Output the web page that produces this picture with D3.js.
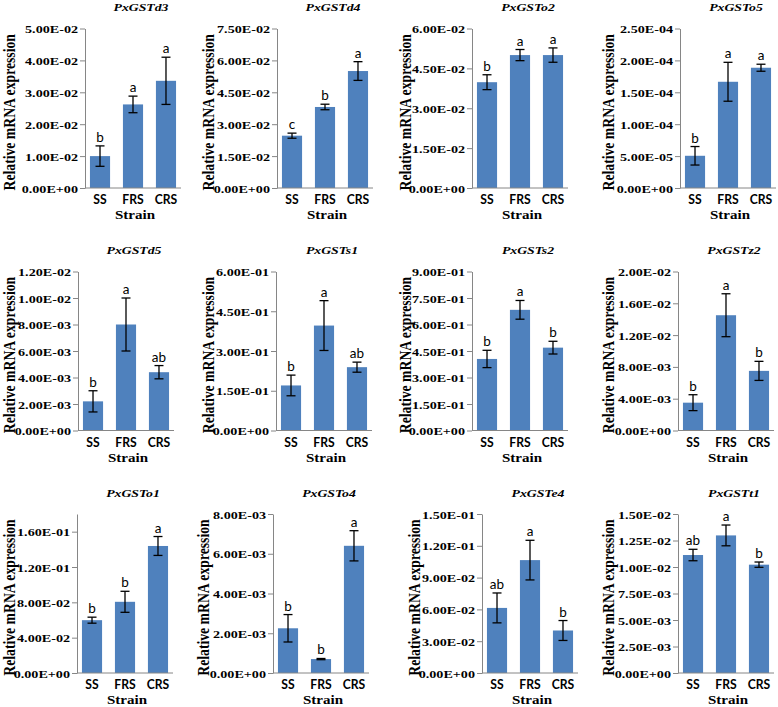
<!DOCTYPE html>
<html>
<head>
<meta charset="utf-8">
<script src="https://cdn.jsdelivr.net/npm/d3@7"></script>
<style>
  body { margin: 0; background: #fff; }
  svg { display: block; }
</style>
</head>
<body>
<div id="chart"></div>
<script>
// gene panels, left to right, top to bottom
var genes = ['PxGSTd3', 'PxGSTd4', 'PxGSTo2', 'PxGSTo5',
             'PxGSTd5', 'PxGSTs1', 'PxGSTs2', 'PxGSTz2',
             'PxGSTo1', 'PxGSTo4', 'PxGSTe4', 'PxGSTt1'];
var strains = ['SS', 'FRS', 'CRS'];

var means = [
    [0.0100, 0.0262, 0.0336],
    [0.0246, 0.0381, 0.0550],
    [0.0398, 0.0500, 0.0500],
    [5.05e-5, 1.665e-4, 1.885e-4],
    [0.0022, 0.0080, 0.0044],
    [0.170, 0.396, 0.239],
    [0.405, 0.683, 0.469],
    [0.0035, 0.0145, 0.0075],
    [0.0598, 0.0806, 0.1438],
    [0.00225, 0.0007, 0.0064],
    [0.0614, 0.1065, 0.0401],
    [0.01113, 0.01298, 0.01022]
];
var errors = [
    [0.0032, 0.0026, 0.0074],
    [0.0012, 0.0013, 0.0044],
    [0.0028, 0.0021, 0.0027],
    [1.45e-5, 3.05e-5, 5.5e-6],
    [0.0008, 0.0020, 0.0005],
    [0.039, 0.094, 0.019],
    [0.049, 0.053, 0.036],
    [0.0010, 0.0027, 0.0012],
    [0.0034, 0.0119, 0.0107],
    [0.00069, 0.00003, 0.00076],
    [0.0141, 0.0187, 0.0094],
    [0.00054, 0.00098, 0.00025]
];
var letters = [
    ['b', 'a', 'a'], ['c', 'b', 'a'], ['b', 'a', 'a'], ['b', 'a', 'a'],
    ['b', 'a', 'ab'], ['b', 'a', 'ab'], ['b', 'a', 'b'], ['b', 'a', 'b'],
    ['b', 'b', 'a'], ['b', 'b', 'a'], ['ab', 'a', 'b'], ['ab', 'a', 'b']
];
var yMax = [0.05, 0.075, 0.06, 2.5e-4, 0.012, 0.6, 0.9, 0.02, 0.18, 0.008, 0.15, 0.015];
var yStep = [0.01, 0.015, 0.015, 5e-5, 0.002, 0.15, 0.15, 0.004, 0.04, 0.002, 0.03, 0.0025];

var yLabel = 'Relative mRNA expression';
var xLabel = 'Strain';

// layout
var width = 778, height = 707;
var rowTop = [28.5, 271.5, 514];
var rowZero = [188, 430.5, 673];
var axisX = [[85, 277, 472, 680], [78, 276, 472, 678], [77, 273, 482, 678]];
var labelX = [[9, 208, 405, 608], [9, 208, 405, 608], [9, 203, 414, 608]];
var plotW = 96;
var sx = 1.25; // serif glyphs in the figure are stretched sideways

var serif = '"Liberation Serif", "Times New Roman", serif';
var sans = 'Lato, "Open Sans", sans-serif';
var barColor = '#4F81BD';
var axisColor = '#868686';

function sci(v) {
    var s = v.toExponential(2).split('e');
    var e = parseInt(s[1], 10);
    var sign = e < 0 ? '-' : '+';
    var ae = Math.abs(e);
    return s[0] + 'E' + sign + (ae < 10 ? '0' + ae : ae);
}

var svg = d3.select('#chart').append('svg')
    .attr('width', width).attr('height', height);

genes.forEach(function(gene, k) {
    var r = Math.floor(k / 4), c = k % 4;
    var x0 = axisX[r][c];
    var top = rowTop[r], zero = rowZero[r];

    var x = d3.scaleBand().domain(strains)
        .range([x0, x0 + plotW]).paddingInner(0.39).paddingOuter(0.15);
    var y = d3.scaleLinear().domain([0, yMax[k]]).range([zero, top]);

    var n = Math.floor(yMax[k] / yStep[k] + 1e-9);
    var ticks = d3.range(0, n + 1).map(function(i) { return i * yStep[k]; });

    var g = svg.append('g');

    var rows = strains.map(function(s, i) {
        return { s: s, m: means[k][i], e: errors[k][i], l: letters[k][i] };
    });
    var cx = function(d) { return x(d.s) + x.bandwidth() / 2; };

    // bars
    g.selectAll('rect.bar').data(rows).enter().append('rect')
        .attr('class', 'bar')
        .attr('x', function(d) { return x(d.s); })
        .attr('width', x.bandwidth())
        .attr('y', function(d) { return y(d.m); })
        .attr('height', function(d) { return zero - y(d.m); })
        .attr('fill', barColor);

    // error bars
    var eb = g.selectAll('g.err').data(rows).enter().append('g')
        .attr('stroke', '#000').attr('stroke-width', 1.3);
    eb.append('line')
        .attr('x1', cx).attr('x2', cx)
        .attr('y1', function(d) { return y(d.m + d.e); })
        .attr('y2', function(d) { return y(d.m - d.e); });
    [1, -1].forEach(function(sgn) {
        eb.append('line')
            .attr('x1', function(d) { return cx(d) - 4.5; })
            .attr('x2', function(d) { return cx(d) + 4.5; })
            .attr('y1', function(d) { return y(d.m + sgn * d.e); })
            .attr('y2', function(d) { return y(d.m + sgn * d.e); });
    });

    // significance letters
    g.selectAll('text.sig').data(rows).enter().append('text')
        .attr('x', cx)
        .attr('y', function(d) { return y(d.m + d.e) - 4; })
        .attr('text-anchor', 'middle')
        .style('font-family', sans).style('font-size', '13.5px')
        .text(function(d) { return d.l; });

    // y axis
    var ya = g.append('g').attr('transform', 'translate(' + x0 + ',0)')
        .call(d3.axisLeft(y).tickValues(ticks).tickSize(5).tickSizeOuter(0).tickFormat(sci));
    ya.select('.domain').attr('stroke', axisColor);
    ya.selectAll('.tick line').attr('stroke', axisColor);
    ya.selectAll('.tick text')
        .attr('x', null).attr('dy', null)
        .attr('transform', 'translate(-7,4) scale(' + sx + ',1)')
        .attr('fill', '#000')
        .style('font-family', serif).style('font-weight', 'bold').style('font-size', '11.3px');

    // x axis line and categories
    g.append('line')
        .attr('x1', x0).attr('x2', x0 + plotW)
        .attr('y1', zero).attr('y2', zero)
        .attr('stroke', axisColor);
    g.selectAll('text.cat').data(strains).enter().append('text')
        .attr('transform', function(s) {
            return 'translate(' + (x(s) + x.bandwidth() / 2) + ',' + (zero + 16) + ') scale(0.9,1)';
        })
        .attr('text-anchor', 'middle')
        .style('font-family', sans).style('font-weight', 'bold').style('font-size', '13.5px')
        .text(function(s) { return s; });

    // titles
    g.append('text')
        .attr('transform', 'translate(' + (x0 + plotW / 2 + 8) + ',' + (top - 17.5) + ') scale(' + sx + ',1)')
        .attr('text-anchor', 'middle')
        .style('font-family', serif).style('font-weight', 'bold').style('font-style', 'italic')
        .style('font-size', '11px')
        .text(gene);

    g.append('text')
        .attr('transform', 'translate(' + (x0 + plotW / 2 + 2) + ',' + (zero + 31) + ') scale(' + sx + ',1)')
        .attr('text-anchor', 'middle')
        .style('font-family', serif).style('font-weight', 'bold').style('font-size', '12px')
        .text(xLabel);

    g.append('text')
        .attr('transform', 'translate(' + labelX[r][c] + ',' + ((top + zero) / 2 + 4) + ') scale(' + sx + ',1) rotate(-90)')
        .attr('text-anchor', 'middle').attr('dy', '0.35em')
        .style('font-family', serif).style('font-weight', 'bold').style('font-size', '13.7px')
        .text(yLabel);
});
</script>
</body>
</html>
